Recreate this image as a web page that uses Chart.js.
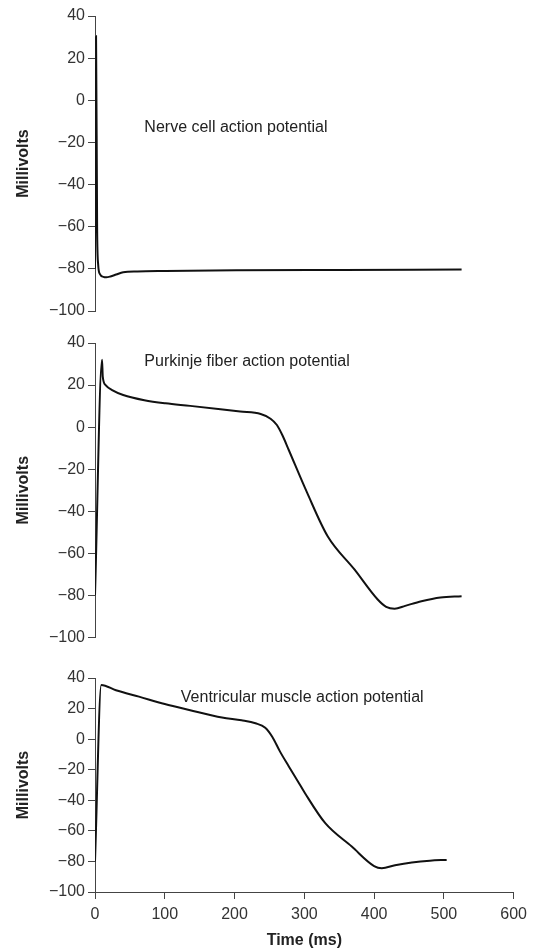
<!DOCTYPE html>
<html>
<head>
<meta charset="utf-8">
<script src="https://cdn.jsdelivr.net/npm/chart.js@4.4.1/dist/chart.umd.min.js"></script>
<style>
  body { margin: 0; background: #fff; }
  .wrap { position: relative; width: 533px; height: 952px; }
  canvas { position: absolute; left: 0; }
</style>
</head>
<body>
<div class="wrap">
  <canvas id="nerve" width="533" height="330" style="top:0"></canvas>
  <canvas id="purkinje" width="533" height="320" style="top:330px"></canvas>
  <canvas id="ventricle" width="533" height="302" style="top:650px"></canvas>
</div>
<script>
// values (time in ms, membrane potential in mV)
const nerveTime = [0, 1.5, 3, 4.5, 7, 12, 16, 22, 30, 40, 60, 100, 200, 350, 520];
const nerveMv = [-80, 30.4, -60, -78, -82.5, -83.8, -84, -83.6, -82.7, -81.6, -81.2, -81, -80.7, -80.5, -80.3];

const purkinjeTime = [0, 10, 11, 15, 25, 40, 70, 100, 135, 178, 206, 235, 249, 258, 266, 275, 301, 330, 368, 401, 413, 425, 440, 463, 490, 520];
const purkinjeMv = [-80, 32, 24, 20, 17.5, 15.3, 12.8, 11.3, 10.1, 8.5, 7.4, 6.2, 4, 1, -4, -11, -31.3, -51.9, -67.7, -82, -85.5, -86.4, -85, -82.8, -81, -80.4];

const ventricleTime = [0, 9, 30, 63, 100, 135, 182, 210, 230, 244, 254, 265, 278, 290, 301, 330, 368, 400, 411, 430, 454, 480, 504];
const ventricleMv = [-80, 35.5, 32, 27.8, 23, 19.1, 14.1, 12.3, 10.4, 7.5, 1.6, -8, -18, -27, -35.4, -55, -70.3, -83, -84.4, -82.5, -80.7, -79.5, -79];

const yTicks = [-100, -80, -60, -40, -20, 0, 20, 40];
const xTicks = [0, 100, 200, 300, 400, 500, 600];
const panelNames = ['Nerve cell action potential', 'Purkinje fiber action potential', 'Ventricular muscle action potential'];

Chart.defaults.font.family = '"Liberation Sans", Arial, sans-serif';
Chart.defaults.font.size = 16;
Chart.defaults.color = '#333';

const axisColor = '#444';

const panelLabel = {
    id: 'panelLabel',
    afterDatasetsDraw(chart, args, opts) {
        const { ctx, scales: { x, y } } = chart;
        ctx.save();
        ctx.font = '16px "Liberation Sans", Arial, sans-serif';
        ctx.fillStyle = '#222';
        ctx.textBaseline = 'middle';
        ctx.fillText(opts.text, x.getPixelForValue(opts.at[0]), y.getPixelForValue(opts.at[1]));
        ctx.restore();
    }
};

function minusSign(v) {
    return String(v).replace('-', '\u2212');
}

function makePanel(id, times, volts, name, labelAt, showX, padding) {
    return new Chart(document.getElementById(id), {
        type: 'line',
        data: {
            datasets: [{
                data: times.map((t, i) => ({ x: t, y: volts[i] })),
                borderColor: '#111',
                borderWidth: 2,
                pointRadius: 0,
                cubicInterpolationMode: 'monotone',
                fill: false
            }]
        },
        options: {
            responsive: false,
            animation: false,
            layout: { padding },
            plugins: {
                legend: { display: false },
                tooltip: { enabled: false },
                panelLabel: { text: name, at: labelAt }
            },
            scales: {
                x: {
                    type: 'linear',
                    min: 0,
                    max: 600,
                    display: showX,
                    afterBuildTicks: (s) => { s.ticks = xTicks.map(v => ({ value: v })); },
                    afterFit: (s) => { if (showX) s.height = 60; },
                    grid: { drawOnChartArea: false, tickLength: 7, color: axisColor },
                    border: { color: axisColor, width: 1 },
                    ticks: { padding: 6, color: '#333', maxRotation: 0 },
                    title: {
                        display: true,
                        text: 'Time (ms)',
                        color: '#222',
                        font: { size: 16, weight: 'bold' },
                        padding: { top: 2, bottom: 2 }
                    }
                },
                y: {
                    min: -100,
                    max: 40,
                    afterBuildTicks: (s) => { s.ticks = yTicks.map(v => ({ value: v })); },
                    afterFit: (s) => { s.width = 95; },
                    grid: { drawOnChartArea: false, tickLength: 7, color: axisColor },
                    border: { color: axisColor, width: 1 },
                    ticks: { padding: 3, color: '#333', callback: minusSign },
                    title: {
                        display: true,
                        text: 'Millivolts',
                        color: '#222',
                        font: { size: 16, weight: 'bold' },
                        padding: { top: 14, bottom: 0 }
                    }
                }
            }
        },
        plugins: [panelLabel]
    });
}

makePanel('nerve', nerveTime, nerveMv, panelNames[0], [70, -13], false, { top: 16, bottom: 19, left: 0, right: 15 });
makePanel('purkinje', purkinjeTime, purkinjeMv, panelNames[1], [70, 31], false, { top: 13, bottom: 12, left: 0, right: 15 });
makePanel('ventricle', ventricleTime, ventricleMv, panelNames[2], [123, 27], true, { top: 28, bottom: 0, left: 0, right: 15 });
</script>
</body>
</html>
